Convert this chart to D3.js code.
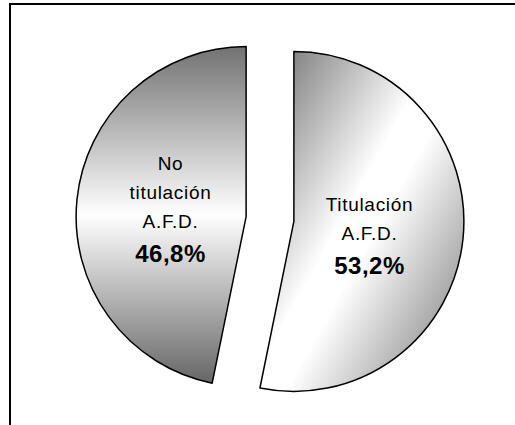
<!DOCTYPE html>
<html>
<head>
<meta charset="utf-8">
<script src="https://cdn.jsdelivr.net/npm/d3@7"></script>
<style>
  body { margin: 0; background: #fff; overflow: hidden; }
  svg { display: block; font-family: "Liberation Sans", Arial, sans-serif; }
</style>
</head>
<body>
<script>
// chart data
const categories = ["Titulación A.F.D.", "No titulación A.F.D."];
const labelLines = [["Titulación", "A.F.D."], ["No", "titulación", "A.F.D."]];
const values = [53.2, 46.8];
const pctLabels = ["53,2%", "46,8%"];

// chart constants
const width = 515, height = 425;
const center = {x: 270, y: 219};
const radius = 170, explode = 24, labelRadius = 76;
const labelNudge = [6, 0];

const svg = d3.select("body").append("svg")
    .attr("width", width)
    .attr("height", height);

// gradients
const defs = svg.append("defs");
// right slice: diagonal band, dark at top-left and right, white through the middle
const gradRight = defs.append("linearGradient")
    .attr("id", "gradRight")
    .attr("gradientUnits", "userSpaceOnUse")
    .attr("x1", -80).attr("y1", -84).attr("x2", 216).attr("y2", 82);
gradRight.append("stop").attr("offset", 0).attr("stop-color", "#6a6a6a");
gradRight.append("stop").attr("offset", 0.45).attr("stop-color", "#ffffff");
gradRight.append("stop").attr("offset", 0.55).attr("stop-color", "#ffffff");
gradRight.append("stop").attr("offset", 1).attr("stop-color", "#747474");

// left slice: vertical, dark top and bottom, white in the middle
const gradLeft = defs.append("linearGradient")
    .attr("id", "gradLeft")
    .attr("x1", 0).attr("y1", 0).attr("x2", 0).attr("y2", 1);
gradLeft.append("stop").attr("offset", 0).attr("stop-color", "#727272");
gradLeft.append("stop").attr("offset", 0.5).attr("stop-color", "#ffffff");
gradLeft.append("stop").attr("offset", 1).attr("stop-color", "#666666");

const fills = ["url(#gradRight)", "url(#gradLeft)"];

// frame (only top and left edges are in view)
svg.append("path")
    .attr("d", "M10,430V4H520")
    .attr("fill", "none")
    .attr("stroke", "#000")
    .attr("stroke-width", 2);

const pie = d3.pie().sort(null).value(d => d)(values);
const arc = d3.arc().innerRadius(0).outerRadius(radius);

const slices = svg.selectAll("g.slice")
    .data(pie)
    .enter().append("g")
    .attr("class", "slice")
    .attr("transform", d => {
        const a = (d.startAngle + d.endAngle) / 2;
        const dx = explode * Math.sin(a), dy = -explode * Math.cos(a);
        return "translate(" + (center.x + dx) + "," + (center.y + dy) + ")";
    });

slices.append("path")
    .attr("d", arc)
    .attr("fill", (d, i) => fills[i])
    .attr("stroke", "#000")
    .attr("stroke-width", 1.5)
    .attr("stroke-linejoin", "round");

// labels
const regStep = 29, boldStep = 34;
slices.each(function(d, i) {
    const a = (d.startAngle + d.endAngle) / 2;
    const lx = labelRadius * Math.sin(a), ly = -labelRadius * Math.cos(a);
    const lines = labelLines[i];
    const total = (lines.length - 1) * regStep + boldStep;
    const y = ly - total / 2 + 7 + labelNudge[i];
    const g = d3.select(this);
    lines.forEach((t, j) => {
        g.append("text")
            .attr("x", lx).attr("y", y + j * regStep)
            .attr("text-anchor", "middle")
            .attr("font-size", 19)
            .attr("letter-spacing", "0.7px")
            .attr("fill", "#000")
            .text(t);
    });
    g.append("text")
        .attr("x", lx).attr("y", y + (lines.length - 1) * regStep + boldStep)
        .attr("text-anchor", "middle")
        .attr("font-size", 24)
        .attr("font-weight", "bold")
        .attr("letter-spacing", "0.5px")
        .attr("fill", "#000")
        .text(pctLabels[i]);
});
</script>
</body>
</html>
